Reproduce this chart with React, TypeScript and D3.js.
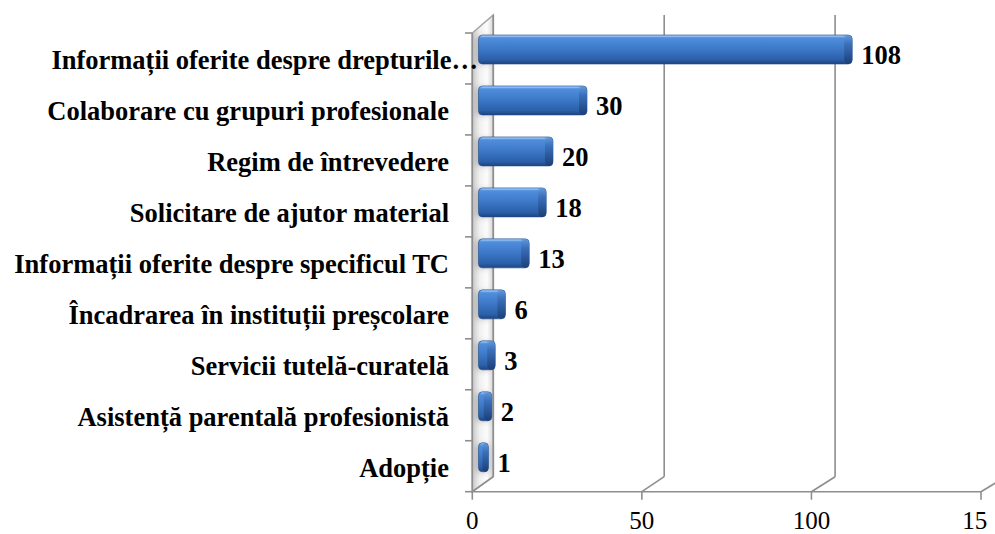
import React from 'react';
import * as d3 from 'd3';

const categories = [
  'Informații oferite despre drepturile…',
  'Colaborare cu grupuri profesionale',
  'Regim de întrevedere',
  'Solicitare de ajutor material',
  'Informații oferite despre specificul TC',
  'Încadrarea în instituții preșcolare',
  'Servicii tutelă-curatelă',
  'Asistență parentală profesionistă',
  'Adopție',
];
const values = [108, 30, 20, 18, 13, 6, 3, 2, 1];
const tickValues = [0, 50, 100, 150];

export default function App() {
  const W = 995, H = 534;
  const floorY = 491.7, backFloorY = 476.7, topY = 15, wallTopFront = 33;
  const yBand = d3.scaleBand<string>().domain(categories).range([33, 491.7]);
  const xFront = d3.scaleLinear().domain([0, 150]).range([472.3, 981]);
  const xBack = d3.scaleLinear().domain([0, 150]).range([493.3, 1006]);
  const xBar = d3.scaleLinear().domain([0, 150]).range([485, 995]);
  const grid = '#8e8e8e';
  const serif = "'Liberation Serif', 'Times New Roman', Tinos, 'DejaVu Serif', serif";
  const barStart = 478.5;

  return (
    <svg width={W} height={H} style={{ position: 'absolute', left: 0, top: 0, background: '#fff', fontFamily: serif }}>
      <defs>
        <linearGradient id="wallGrad" x1="0" x2="1" y1="0" y2="0">
          <stop offset="0" stopColor="#c8c8c8" />
          <stop offset="0.35" stopColor="#f0f0f0" />
          <stop offset="0.7" stopColor="#fcfcfc" />
          <stop offset="1" stopColor="#d6d6d6" />
        </linearGradient>
        <linearGradient id="barGrad" x1="0" x2="0" y1="0" y2="1">
          <stop offset="0" stopColor="#7fb2ee" />
          <stop offset="0.12" stopColor="#4f8ddb" />
          <stop offset="0.5" stopColor="#3b77c6" />
          <stop offset="0.85" stopColor="#2b5fa8" />
          <stop offset="1" stopColor="#1d4480" />
        </linearGradient>
        <linearGradient id="capGrad" x1="0" x2="0" y1="0" y2="1">
          <stop offset="0" stopColor="#5d93d6" />
          <stop offset="0.3" stopColor="#3a6fb8" />
          <stop offset="1" stopColor="#1b3f78" />
        </linearGradient>
        <filter id="blur" x="-50%" y="-50%" width="200%" height="200%">
          <feGaussianBlur stdDeviation="3" />
        </filter>
        <clipPath id="tickClip">
          <rect x={0} y={0} width={987} height={H} />
        </clipPath>
      </defs>

      {/* left wall */}
      <polygon
        points={`${xFront(0)},${floorY} ${xFront(0)},${wallTopFront} ${xBack(0)},${topY} ${xBack(0)},${backFloorY}`}
        fill="url(#wallGrad)" stroke="#a6a6a6" strokeWidth={1.5}
      />
      {categories.map((c, i) => (
        <rect key={'sh' + i} x={475} y={(yBand(c) as number) + 4} width={15} height={27}
          fill="#8a8a8a" opacity={0.5} filter="url(#blur)" />
      ))}

      {/* gridlines & floor */}
      {tickValues.map((t) => (
        <g key={'g' + t}>
          {t < 150 && (
            <line x1={xBack(t)} y1={backFloorY} x2={xBack(t)} y2={topY} stroke={grid} strokeWidth={1.6} />
          )}
          <line x1={xFront(t)} y1={floorY} x2={xBack(t)} y2={backFloorY} stroke={grid} strokeWidth={1.6} />
          <line x1={xFront(t)} y1={floorY} x2={xFront(t)} y2={floorY + 8} stroke={grid} strokeWidth={1.6} />
          <text x={xFront(t)} y={529} textAnchor="middle" fontFamily={serif} fontSize={25} fill="#000"
            clipPath={t === 150 ? 'url(#tickClip)' : undefined}>{t}</text>
        </g>
      ))}
      <line x1={xFront(0)} y1={floorY} x2={xFront(150)} y2={floorY} stroke={grid} strokeWidth={1.6} />
      <line x1={xFront(0)} y1={wallTopFront} x2={xFront(0)} y2={floorY} stroke={grid} strokeWidth={1.6} />
      {[...categories.map((c) => yBand(c) as number), floorY].map((y, i) => (
        <line key={'ct' + i} x1={465} y1={y} x2={xFront(0)} y2={y} stroke={grid} strokeWidth={1.6} />
      ))}

      {/* bars */}
      {categories.map((c, i) => {
        const v = values[i];
        const y0 = (yBand(c) as number) + 2;
        const h = 29;
        const x1 = xBar(v);
        const w = x1 - barStart;
        const capW = Math.min(8, w * 0.6);
        return (
          <g key={'b' + i}>
            <rect x={barStart} y={y0} width={w} height={h} rx={4} ry={4} fill="url(#barGrad)" stroke="#224c88" strokeWidth={0.6} />
            <rect x={x1 - capW} y={y0 + 1} width={capW} height={h - 1} rx={4} ry={5} fill="url(#capGrad)" />
            <line x1={barStart + 3} y1={y0 + 1.2} x2={x1 - capW} y2={y0 + 1.2} stroke="#a9cdf6" strokeWidth={1} opacity={0.8} />
            <text x={x1 + 9} y={y0 + h / 2 + 14.5} fontFamily={serif} fontWeight="bold" fontSize={26.5} fill="#000">{v}</text>
          </g>
        );
      })}

      {/* category labels */}
      {categories.map((c) => (
        <text key={'l' + c} x={c.endsWith('…') ? 478 : 449} y={(yBand(c) as number) + yBand.bandwidth() / 2 + 10.5}
          textAnchor="end" fontFamily={serif} fontWeight="bold" fontSize={26.5} fill="#000">{c}</text>
      ))}
    </svg>
  );
}
